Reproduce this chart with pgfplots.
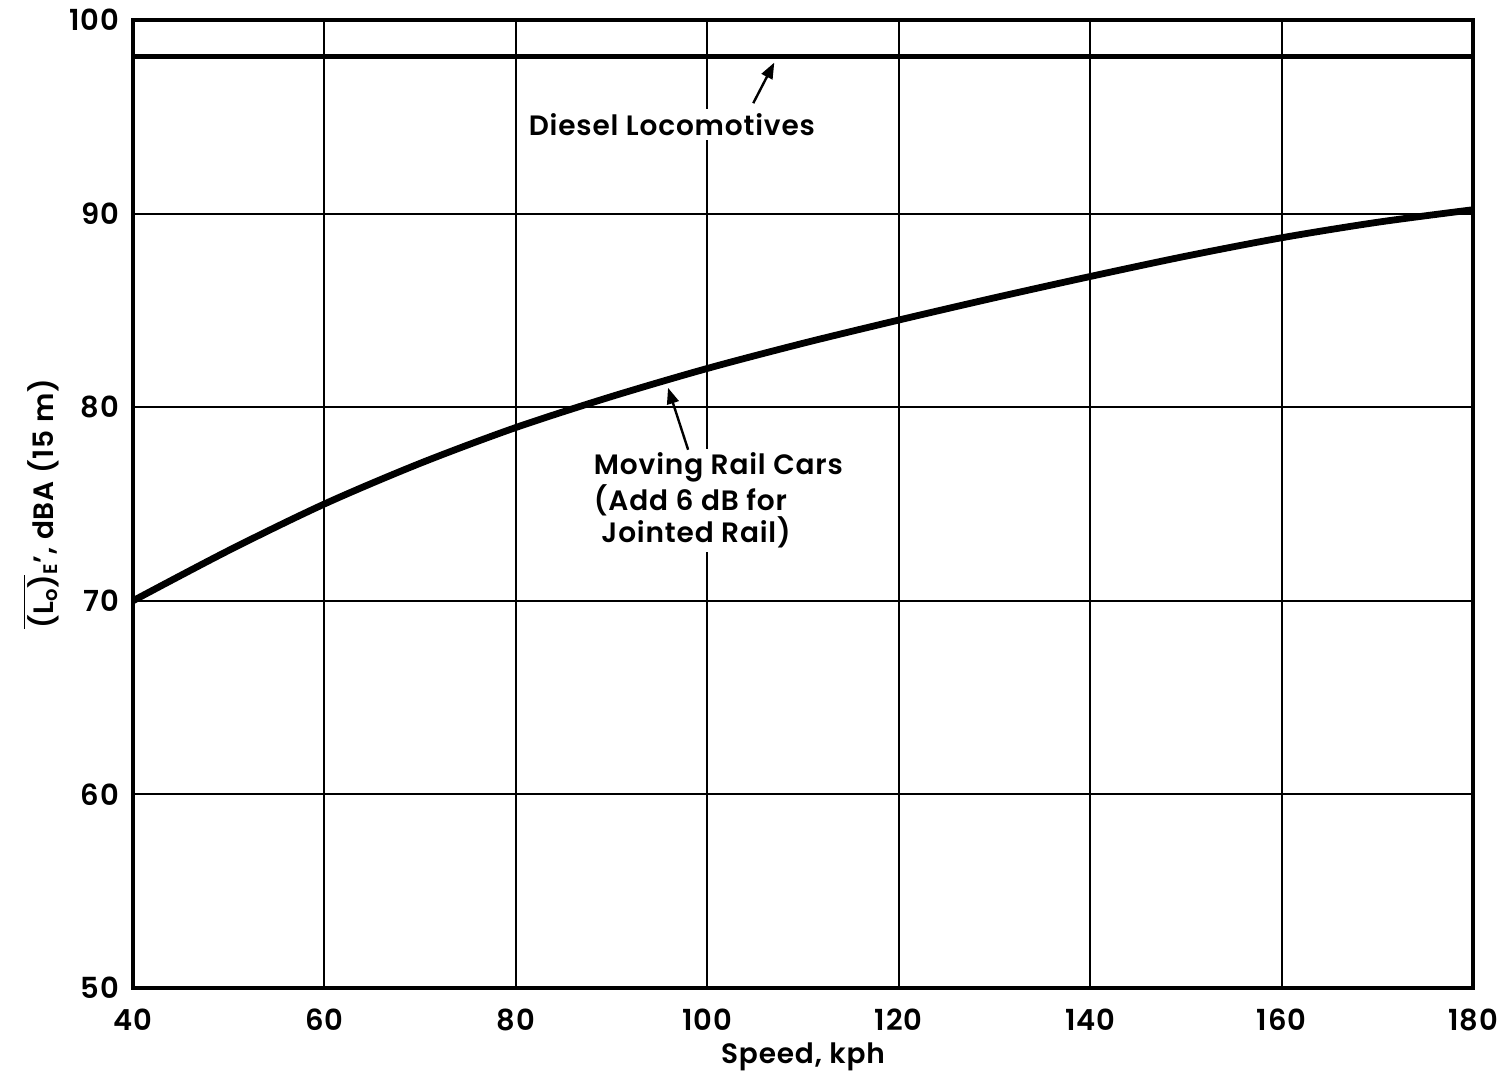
\documentclass[border=0pt]{standalone}
\usepackage{fontspec}
\setmainfont{Poppins}[UprightFont={* SemiBold}, LetterSpace=3]
\usepackage{pgfplots}
\pgfplotsset{compat=1.18}
\usetikzlibrary{arrows.meta}

\begin{document}
\begin{tikzpicture}
\begin{axis}[
    scale only axis,
    width=670pt, height=484pt,
    xmin=40, xmax=180, ymin=50, ymax=100,
    xtick={40,60,...,180}, ytick={50,60,...,100},
    grid=major,
    major grid style={black, line width=1pt},
    axis line style={line width=1.6pt},
    major tick length=0pt,
    tick label style={font=\fontsize{14.5}{16}\selectfont},
    xticklabel style={yshift=-7pt},
    yticklabel style={xshift=-3.5pt},
    /pgf/number format/assume math mode=true,
    xlabel={Speed, kph},
    ylabel={$\overline{\hbox{(L\textsubscript{o})}}$\textsubscript{E}’, dBA (15 m)},
    label style={font=\fontsize{14}{16}\selectfont},
    xlabel style={at={(axis description cs:0.5,0)}, anchor=center, yshift=-34.5pt},
    ylabel style={at={(axis description cs:0,0.5)}, anchor=center, yshift=46pt},
    clip=false,
]
% diesel locomotives
\addplot[black, line width=2.6pt] coordinates {(40,98.1) (180,98.1)};
% moving rail cars
\addplot[black, line width=3.4pt, smooth] coordinates {
    (40,70.0) (50,72.6) (60,75.0) (70,77.1) (80,78.95) (90,80.55)
    (100,82.0) (110,83.3) (120,84.5) (130,85.65) (140,86.75)
    (150,87.8) (160,88.75) (170,89.55) (180,90.2)
};
\node[fill=white, inner sep=2pt, font=\fontsize{14}{16}\selectfont]
    at (axis cs:96.3,94.6) {Diesel Locomotives};
\draw[-{Triangle[length=8pt,width=6pt]}, line width=1.2pt]
    (axis cs:104.8,95.7) -- (axis cs:107.0,97.8);
\node[fill=white, inner sep=2pt, anchor=west, align=left,
      font=\fontsize{14}{16}\selectfont]
    at (axis cs:87.7,75.2) {Moving Rail Cars\\(Add 6 dB for\\\ Jointed Rail)};
\draw[-{Triangle[length=8pt,width=6pt]}, line width=1.2pt]
    (axis cs:98.0,77.8) -- (axis cs:95.9,81.0);
\coordinate (bl) at (rel axis cs:0,0);
\coordinate (tr) at (rel axis cs:1,1);
\end{axis}
\pgfresetboundingbox
\path[use as bounding box] ([shift={(-66.5pt,-46.5pt)}]bl) rectangle ([shift={(16.5pt,10pt)}]tr);
\end{tikzpicture}
\end{document}
